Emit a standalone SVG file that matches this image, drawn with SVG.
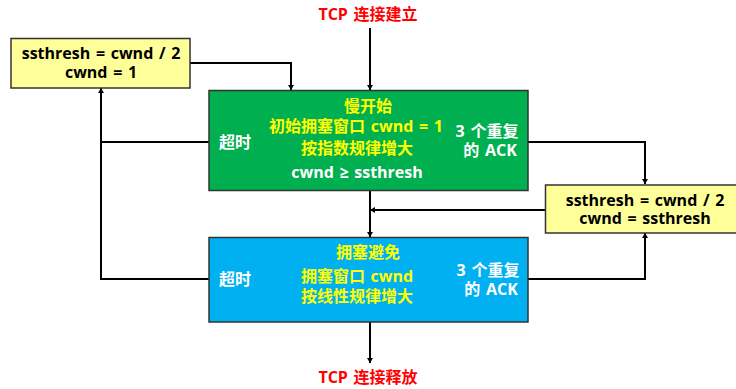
<svg xmlns="http://www.w3.org/2000/svg" width="736" height="389" viewBox="0 0 736 389">
<defs>
<marker id="ah" viewBox="0 0 10 10" refX="10" refY="5" markerWidth="5" markerHeight="6" markerUnits="userSpaceOnUse" orient="auto" preserveAspectRatio="none">
<path d="M0,0 L10,5 L0,10 Z" fill="#000"/>
</marker>
<style>
text{font-family:"Open Sans","Noto Sans CJK SC",sans-serif;font-weight:bold;font-size:16px;word-spacing:1.5px;text-anchor:middle}
.box{stroke:#333;stroke-width:1.5}
.note{fill:#FFFF99}
.w{fill:#fff}
.y{fill:#FFFF00}
.k{fill:#000}
.r{fill:#FF0000}
.c{fill:none;stroke:#000;stroke-width:2;marker-end:url(#ah)}
.l{fill:none;stroke:#000;stroke-width:2}
</style>
</defs>
<g id="connectors">
<path class="c" d="M370,28 V90"/>
<path class="c" d="M190,63 H291 V90"/>
<path class="l" d="M209,142 H101"/>
<path class="c" d="M209,279 H101 V88"/>
<path class="c" d="M528,142 H645 V184"/>
<path class="c" d="M528,279 H645 V233"/>
<path class="c" d="M545,210 H370"/>
<path class="c" d="M370,190 V237"/>
<path class="c" d="M370,322 V363"/>
</g>
<g id="start-label"><text class="r" x="368" y="20">TCP 连接建立</text></g>
<g id="end-label"><text class="r" x="368" y="383">TCP 连接释放</text></g>
<g id="reset-timeout">
<rect class="box note" x="11" y="38.5" width="179" height="49.5"/>
<text class="k" x="101" y="59">ssthresh = cwnd / 2</text>
<text class="k" x="101" y="78">cwnd = 1</text>
</g>
<g id="reset-ack">
<rect class="box note" x="545.5" y="185" width="200" height="48"/>
<text class="k" x="645" y="205.5">ssthresh = cwnd / 2</text>
<text class="k" x="645" y="224">cwnd = ssthresh</text>
</g>
<g id="slow-start">
<rect class="box" fill="#00B050" x="209" y="90.5" width="319" height="100"/>
<text class="y" x="368" y="112">慢开始</text>
<text class="y" x="356" y="132">初始拥塞窗口 cwnd = 1</text>
<text class="y" x="357" y="154">按指数规律增大</text>
<text class="w" x="357" y="178">cwnd ≥ ssthresh</text>
<text class="w" x="235" y="148">超时</text>
<text class="w" x="487" y="137">3 个重复</text>
<text class="w" x="490" y="156">的 ACK</text>
</g>
<g id="congestion-avoidance">
<rect class="box" fill="#00B0F0" x="209" y="237.5" width="319" height="84.5"/>
<text class="y" x="368" y="258">拥塞避免</text>
<text class="y" x="357" y="282">拥塞窗口 cwnd</text>
<text class="y" x="357" y="302">按线性规律增大</text>
<text class="w" x="235" y="285">超时</text>
<text class="w" x="488" y="276">3 个重复</text>
<text class="w" x="491" y="295">的 ACK</text>
</g>
</svg>
